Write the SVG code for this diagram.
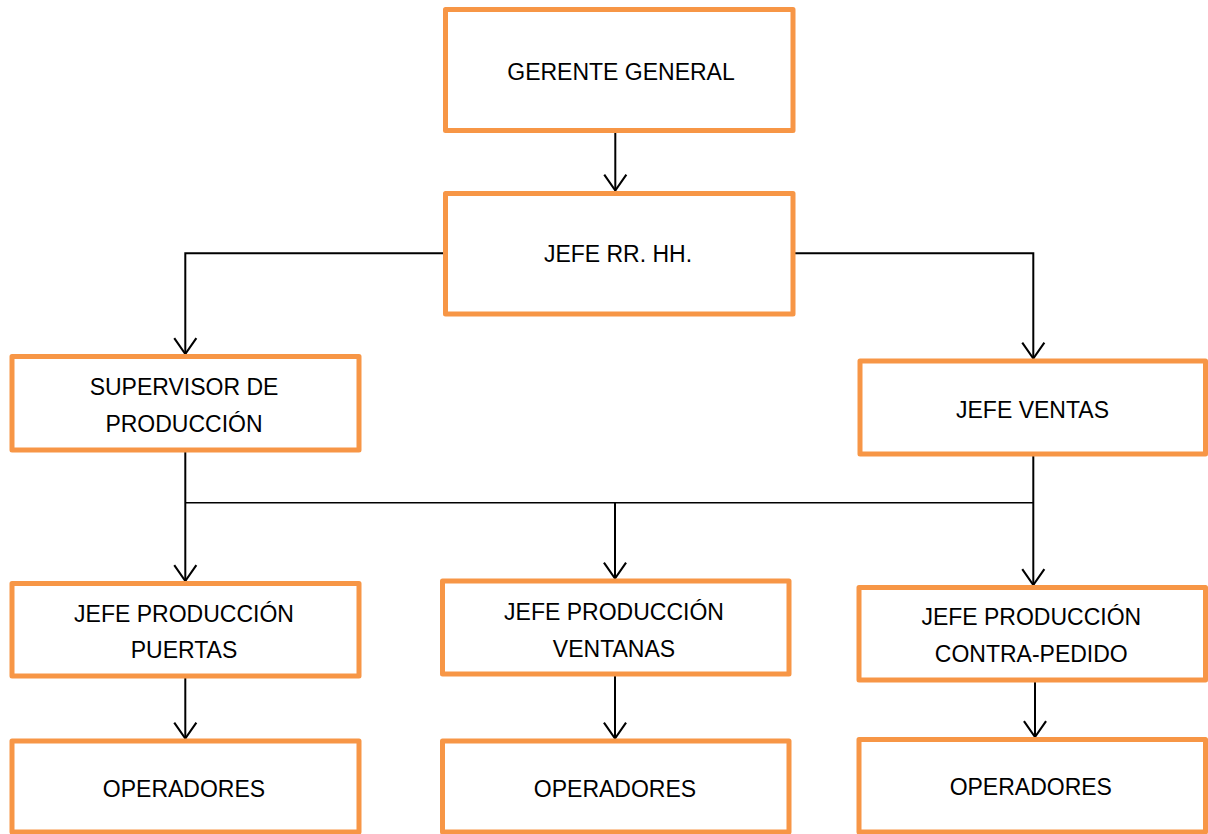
<svg xmlns="http://www.w3.org/2000/svg" width="1208" height="834" viewBox="0 0 1208 834">
<style>
.box{fill:#ffffff;stroke:#F79646;stroke-width:5;stroke-linejoin:round}
.lbl{font-family:"Liberation Sans",Arial,sans-serif;font-size:23px;fill:#000000;text-anchor:middle}
.con{fill:none;stroke:#000000;stroke-width:2}
.bus{fill:none;stroke:#000000;stroke-width:1.6}
</style>
<defs>
<marker id="arr" markerUnits="userSpaceOnUse" markerWidth="20" markerHeight="26" viewBox="-17 -12 19 24" refX="0" refY="0" orient="auto">
<path d="M-15,-10.5 L0,0 L-15,10.5" fill="none" stroke="#000000" stroke-width="2"/>
</marker>
</defs>
<rect width="1208" height="834" fill="#ffffff"/>
<g id="connectors">
<line class="con" x1="615.3" y1="131" x2="615.3" y2="190.5" marker-end="url(#arr)"/>
<polyline class="con" points="445.5,253.3 185.3,253.3 185.3,354" marker-end="url(#arr)"/>
<polyline class="con" points="793,253.3 1033.3,253.3 1033.3,358.5" marker-end="url(#arr)"/>
<line class="bus" x1="185.3" y1="502.7" x2="1033.3" y2="502.7"/>
<line class="con" x1="185.3" y1="450" x2="185.3" y2="581" marker-end="url(#arr)"/>
<line class="con" x1="615" y1="502.7" x2="615" y2="578.5" marker-end="url(#arr)"/>
<line class="con" x1="1033.3" y1="454" x2="1033.3" y2="585" marker-end="url(#arr)"/>
<line class="con" x1="185.3" y1="676" x2="185.3" y2="738.5" marker-end="url(#arr)"/>
<line class="con" x1="615" y1="674" x2="615" y2="738.5" marker-end="url(#arr)"/>
<line class="con" x1="1035" y1="680" x2="1035" y2="737" marker-end="url(#arr)"/>
</g>
<g id="gerente">
<rect class="box" x="445.5" y="9.5" width="347.5" height="121"/>
<text class="lbl" x="621" y="80">GERENTE GENERAL</text>
</g>
<g id="jefe-rrhh">
<rect class="box" x="445.5" y="193.5" width="347.5" height="120.5"/>
<text class="lbl" x="618" y="261.5">JEFE RR. HH.</text>
</g>
<g id="supervisor">
<rect class="box" x="12" y="356.5" width="347" height="93.5"/>
<text class="lbl" x="184" y="395">SUPERVISOR DE</text>
<text class="lbl" x="184" y="431.5">PRODUCCIÓN</text>
</g>
<g id="jefe-ventas">
<rect class="box" x="860" y="361" width="345.5" height="93"/>
<text class="lbl" x="1032.5" y="418">JEFE VENTAS</text>
</g>
<g id="jefe-puertas">
<rect class="box" x="12" y="583.5" width="347" height="92.5"/>
<text class="lbl" x="184" y="621.5">JEFE PRODUCCIÓN</text>
<text class="lbl" x="184" y="658">PUERTAS</text>
</g>
<g id="jefe-ventanas">
<rect class="box" x="442.5" y="581" width="346.5" height="93"/>
<text class="lbl" x="614" y="620">JEFE PRODUCCIÓN</text>
<text class="lbl" x="614" y="656.5">VENTANAS</text>
</g>
<g id="jefe-contrapedido">
<rect class="box" x="859" y="587.5" width="346.5" height="92.5"/>
<text class="lbl" x="1031.3" y="625">JEFE PRODUCCIÓN</text>
<text class="lbl" x="1031.3" y="661.5">CONTRA-PEDIDO</text>
</g>
<g id="operadores-1">
<rect class="box" x="12" y="741" width="347" height="91"/>
<text class="lbl" x="184" y="796.5">OPERADORES</text>
</g>
<g id="operadores-2">
<rect class="box" x="442.5" y="741" width="346.5" height="91"/>
<text class="lbl" x="615" y="796.5">OPERADORES</text>
</g>
<g id="operadores-3">
<rect class="box" x="859" y="739.5" width="346.5" height="92.5"/>
<text class="lbl" x="1030.8" y="795">OPERADORES</text>
</g>
</svg>
